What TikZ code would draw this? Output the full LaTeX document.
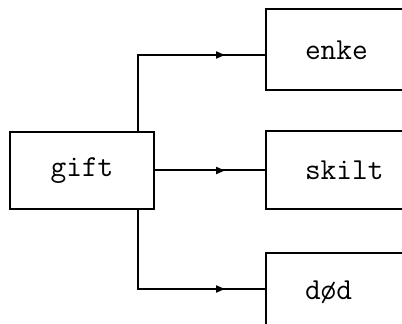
\documentclass[tikz,border=0pt]{standalone}
\usepackage{tikz}
\usetikzlibrary{arrows.meta,positioning}

\tikzset{
  statebox/.style={draw,rectangle,minimum height=78pt,text width=100pt,
    align=left,inner xsep=39pt},
  flow/.style={line width=2pt},
  tip/.style={-{Triangle[length=9pt,width=7pt]},shorten >=-1pt}
}

\begin{document}
\begin{tikzpicture}[x=1pt,y=1pt,line width=2pt,font=\ttfamily\fontsize{30.5}{34}\selectfont]
\useasboundingbox (0,0) rectangle (402,324);
\clip (0,0) rectangle (402,324);
\node[draw,minimum width=144pt,minimum height=77pt] (gift) at (82,153.5) {gift};
\node[statebox] (skilt) [right=110pt of gift] {skilt};
\node[statebox,minimum height=81pt] (enke) [above=39pt of skilt] {enke};
\node[statebox] (dod) [below=42pt of skilt] {død};
% pilene
\coordinate (a_1) at (224,269);
\coordinate (a_2) at (224,153.5);
\coordinate (a_3) at (224,35);
\draw[flow] ([xshift=-17pt]gift.north east) |- (a_1) -- (a_1 -| enke.west);
\draw[flow] (gift.east) -- (skilt.west);
\draw[flow] ([xshift=-17pt]gift.south east) |- (a_3) -- (a_3 -| dod.west);
\foreach \a in {a_1,a_2,a_3}
  \draw[flow,tip] ([xshift=-2pt]\a) -- (\a);
\end{tikzpicture}
\end{document}
